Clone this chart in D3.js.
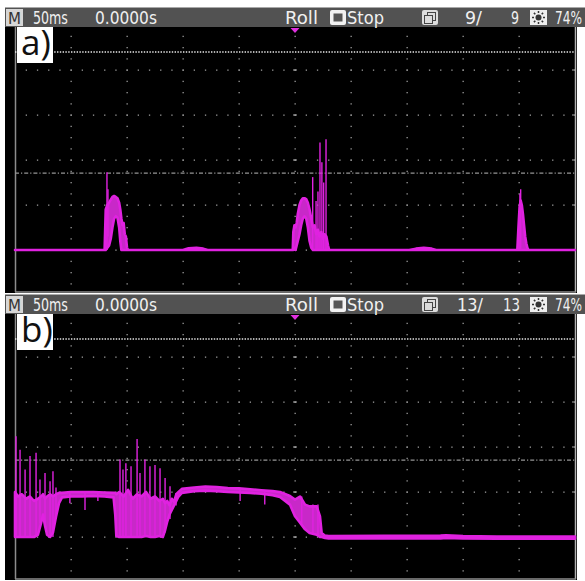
<!DOCTYPE html>
<html><head><meta charset="utf-8">
<script src="https://cdn.jsdelivr.net/npm/d3@7"></script>
<style>html,body{margin:0;padding:0;background:#fff;} svg{display:block;}</style>
</head><body>
<svg id="c" width="585" height="581"></svg>
<script>
// ---------- data ----------
const timeTicks = [0, 50, 100, 150, 200, 250, 300, 350, 400, 450, 500];   // ms (50 ms/div)
const levelTicks = [0, 1, 2, 3, 4];                                        // divisions
const panelLabels = ["a)", "b)"];
const frameCounts = [["9/", "9"], ["13/", "13"]];
const timebaseText = "50ms";
const delayText = "0.0000s";
const modeText = "Roll";
const stateText = "Stop";
const levelText = "74%";
const cursorLevel = 4.4;     // white dotted cursor (div)
const triggerLevel = 1.71;   // grey dash-dot level (div)
const triggerTime = 250;     // trigger marker position (ms)

// panel a envelope: [ms, low, high] in divisions
const envA = [
  [0,0,0],[80,0,0],[81,0,0.9],[82.5,0.05,1.0],[84,0.1,1.05],[85.5,0.25,1.12],[87,0.5,1.18],
  [88.5,0.7,1.2],[90,0.75,1.18],[91.5,0.72,1.15],[93,0.5,1.05],[94,0.2,0.9],[95,0,0.7],
  [96,0,0.55],[97,0,0.6],[98,0,0.35],[99,0,0.3],[100,0,0.05],[101,0,0],
  [150,0,0],[155,0,0.04],[162,0,0.05],[168,0,0.03],[172,0,0],
  [248,0,0],[248.5,0,0.4],[249.5,0.05,0.55],[250.5,0,0.5],[251.5,0.1,0.6],[252.5,0.2,0.8],
  [254,0.35,1.0],[255.5,0.55,1.1],[257,0.7,1.15],[258.5,0.75,1.15],[260,0.7,1.13],
  [261.5,0.5,1.05],[263,0.2,0.9],[264.5,0.05,0.7],[266,0,0.5],[267.5,0,0.55],[269,0,0.35],
  [270.5,0,0.45],[272,0,0.3],[273.5,0,0.4],[275,0,0.25],[276.5,0,0.35],[278,0,0.3],
  [279.5,0,0.1],[280.5,0,0],
  [352,0,0],[358,0,0.03],[365,0,0.05],[372,0,0.03],[376,0,0],
  [448.5,0,0],[449.5,0,0.5],[450.5,0,0.95],[451.5,0,1.1],[452.5,0,1.0],[453.5,0,0.8],
  [454.5,0,0.55],[455.5,0,0.3],[456.5,0,0.15],[457.5,0,0.05],[458.5,0,0],
  [500,0,0]
];
// panel a spikes: [ms, low, high]
const spikesA = [
  [82.1,0,1.73],[83,0.3,1.35],[265.8,0,1.62],[268.8,0,1.09],[270.5,0,1.3],[272.3,0,2.39],
  [274,0,1.95],[275.6,0,1.5],[277.7,0,2.46],[451.5,0,1.35],[450.8,0,1.25]
];

// panel b envelope
const envB = [
  [0,0,1.0],[2.7,0,0.9],[6.25,0,0.95],[9.8,0,0.85],[13.4,0,0.9],[17,0,0.8],[20.5,0.05,0.85],
  [23.2,0.3,0.9],[25,0.5,0.95],[26.8,0.25,0.85],[28.6,0.05,0.9],[31.3,0,0.95],[33.9,0.1,0.9],
  [36.6,0.45,0.95],[39.3,0.75,0.98],[42,0.88,0.98],[50,0.9,1.0],[60,0.9,1.0],[70,0.91,1.0],
  [80,0.9,0.99],[88,0.88,0.98],[89.5,0.5,0.98],[90.5,0.02,0.95],[93,0,1.0],[97,0,0.9],
  [101,0,1.05],[105,0,0.85],[109,0,0.95],[113,0,0.9],[117,0.02,1.0],[121,0,0.85],[125,0,0.9],
  [129,0.02,0.8],[132,0,0.85],[134,0.15,0.75],[136,0.35,0.8],[138,0.5,0.7],[140,0.6,0.85],
  [142,0.7,0.78],[144,0.8,0.95],[146,0.9,1.0],[149,0.98,1.07],[160,1.02,1.1],[170,1.03,1.12],
  [180,1.02,1.11],[190,1.0,1.09],[200,0.99,1.08],[210,0.98,1.06],[220,0.96,1.04],
  [230,0.93,1.02],[236.6,0.89,1.0],[245.5,0.72,0.91],[250,0.46,0.83],[254.5,0.32,0.9],
  [259,0.17,0.72],[263,0.09,0.68],[269.4,0.05,0.68],[272.3,0,0.46],[273.8,0,0.09],
  [276.8,-0.02,0.03],[280,-0.03,0.02],[380,-0.03,0.03],[385,-0.02,0.04],[400,-0.03,0.02],
  [430,-0.04,0.01],[500,-0.04,0.01]
];
const spikesB = [
  [0.9,0,2.24],[4.5,0,1.94],[9,0,1.5],[13.4,0,1.8],[18.8,0,1.87],[22.3,0.3,1.28],[26.8,0.3,1.42],
  [31.3,0,1.24],[33.9,0,1.46],[36.6,0.4,1.1],
  [49,0.75,1.0],[62.5,0.6,1.0],[74,0.8,1.0],
  [93.75,0,1.72],[96.4,0,1.5],[99,0,1.64],[103.6,0,1.57],[109,0,2.18],[111.6,0,1.42],
  [116,0,1.72],[120.5,0,1.57],[125,0,1.6],[129.5,0,1.53],[134,0.1,1.31],[138.4,0.4,1.13],
  [143.8,0.7,0.98],
  [201,0.8,1.05],[223,0.72,1.0],[256,0.3,0.9],[266,0.08,0.72],[270.5,0.05,0.72]
];
const panels = [
  {oy: 0, env: envA, spikes: spikesA},
  {oy: 287, env: envB, spikes: spikesB}
];

// ---------- drawing ----------
const svg = d3.select("#c");
const x = d3.scaleLinear().domain([0, 500]).range([15, 575]);
const trace = "#e022e0";
const hdrFont = "'DejaVu Sans Condensed','DejaVu Sans',sans-serif";

panels.forEach((p, i) => {
  const oy = p.oy;
  const y = d3.scaleLinear().domain([0, 1]).range([250 + oy, 205 + oy]);
  const g = svg.append("g");

  // screen
  g.append("rect").attr("x", 5).attr("y", 27 + oy).attr("width", 572).attr("height", 266).attr("fill", "#000");
  // header bar
  g.append("rect").attr("x", 5).attr("y", 7 + oy).attr("width", 580).attr("height", 20).attr("fill", "#525252");
  g.append("line").attr("x1", 5).attr("x2", 585).attr("y1", 7.5 + oy).attr("y2", 7.5 + oy).attr("stroke", "#a8a8a8");

  // grid dots on vertical division lines
  const yTop = 27 + oy, yBot = 292 + oy;
  timeTicks.slice(1, -1).forEach(t => {
    for (let yy = y(5) + 11.25; yy < yBot; yy += 11.25) {
      g.append("rect").attr("x", x(t) - 0.5).attr("y", yy - 0.5).attr("width", 1.3).attr("height", 1.3).attr("fill", "#9a9a9a");
    }
  });
  // grid dots on horizontal rows
  levelTicks.forEach(v => {
    for (let xx = x(0) + 11.2; xx < 575; xx += 11.2) {
      g.append("rect").attr("x", xx - 0.5).attr("y", y(v) - 0.5).attr("width", 1.3).attr("height", 1.3).attr("fill", "#9a9a9a");
    }
    g.append("line").attr("x1", x(250) - 2).attr("x2", x(250) + 2).attr("y1", y(v)).attr("y2", y(v)).attr("stroke", "#aaa");
    g.append("line").attr("x1", 572).attr("x2", 575).attr("y1", y(v)).attr("y2", y(v)).attr("stroke", "#aaa");
  });

  // frame
  g.append("line").attr("x1", 15.5).attr("x2", 15.5).attr("y1", yTop).attr("y2", yBot).attr("stroke", "#8c8c8c").attr("stroke-width", 1.5);
  g.append("line").attr("x1", 575.5).attr("x2", 575.5).attr("y1", yTop).attr("y2", yBot).attr("stroke", "#b0b0b0").attr("stroke-width", 1.5);
  g.append("line").attr("x1", 15).attr("x2", 576).attr("y1", yBot).attr("y2", yBot).attr("stroke", "#8c8c8c").attr("stroke-width", 1.5);

  // cursor & trigger level lines
  g.append("line").attr("x1", x(0)).attr("x2", 575).attr("y1", y(cursorLevel)).attr("y2", y(cursorLevel))
    .attr("stroke", "#e8e8e8").attr("stroke-width", 1.4).attr("stroke-dasharray", "1.4,1.4");
  g.append("line").attr("x1", x(0)).attr("x2", 575).attr("y1", y(triggerLevel)).attr("y2", y(triggerLevel))
    .attr("stroke", "#959595").attr("stroke-width", 1.2).attr("stroke-dasharray", "4,2,1.2,2");

  // trace
  const area = d3.area().x(d => x(d[0])).y0(d => y(d[1])).y1(d => y(d[2]));
  g.append("path").datum(p.env).attr("d", area).attr("fill", "#c828c8")
    .attr("stroke", trace).attr("stroke-width", 2.6).attr("stroke-linejoin", "round");
  g.selectAll(null).data(p.spikes).enter().append("line")
    .attr("x1", d => x(d[0])).attr("x2", d => x(d[0]))
    .attr("y1", d => y(d[1])).attr("y2", d => y(d[2]))
    .attr("stroke", trace).attr("stroke-width", 1.4);

  // trigger marker
  const tx = x(triggerTime);
  g.append("path").attr("d", `M${tx - 4.5},${28 + oy}L${tx + 4.5},${28 + oy}L${tx},${33 + oy}Z`).attr("fill", "#e030e0");

  // panel label
  g.append("rect").attr("x", 17).attr("y", 27 + oy).attr("width", 36).attr("height", 36).attr("fill", "#fff");
  g.append("text").attr("x", 21).attr("y", 55 + oy).text(panelLabels[i])
    .attr("font-family", "'Open Sans',sans-serif").attr("font-size", 35).attr("fill", "#111");

  // header contents
  g.append("rect").attr("x", 6).attr("y", 9 + oy).attr("width", 17).attr("height", 17).attr("fill", "#d6d6d6");
  // condensed header text: natural text horizontally scaled to target width
  const ht = (s, x0, w, size, fill) => {
    const t = g.append("text").attr("x", 0).attr("y", 0).text(s)
      .attr("font-family", hdrFont).attr("font-size", size || 18).attr("fill", fill || "#f0f0f0");
    const nat = t.node().getComputedTextLength();
    t.attr("transform", `translate(${x0},${23.5 + oy}) scale(${w / nat},1)`);
    return t;
  };
  ht("M", 8, 13, 16, "#333");
  ht(timebaseText, 33, 35);
  ht(delayText, 95, 62);
  ht(modeText, 285, 33);
  // stop icon
  g.append("rect").attr("x", 330).attr("y", 10 + oy).attr("width", 16).attr("height", 15).attr("rx", 2).attr("fill", "#f2f2f2");
  g.append("rect").attr("x", 333.5).attr("y", 13.5 + oy).attr("width", 9).attr("height", 8).attr("fill", "#555");
  ht(stateText, 347, 37);
  // stacked-pages icon
  g.append("rect").attr("x", 422).attr("y", 10 + oy).attr("width", 16).attr("height", 15).attr("rx", 2).attr("fill", "#dcdcdc");
  g.append("rect").attr("x", 427.5).attr("y", 12.5 + oy).attr("width", 8).attr("height", 8).attr("fill", "#dcdcdc").attr("stroke", "#444");
  g.append("rect").attr("x", 424.5).attr("y", 15.5 + oy).attr("width", 8).attr("height", 8).attr("fill", "#dcdcdc").attr("stroke", "#444");
  // frame counters
  const fc = frameCounts[i];
  if (i === 0) { ht(fc[0], 465, 17); ht(fc[1], 511, 8); }
  else { ht(fc[0], 457, 26); ht(fc[1], 503, 17); }
  // brightness icon
  g.append("rect").attr("x", 530).attr("y", 10 + oy).attr("width", 17).attr("height", 15).attr("fill", "#eeeeee");
  g.append("circle").attr("cx", 538.5).attr("cy", 17.5 + oy).attr("r", 3).attr("fill", "#333");
  [0, 45, 90, 135, 180, 225, 270, 315].forEach(a => {
    const r = a * Math.PI / 180;
    g.append("line").attr("x1", 538.5 + 4.5 * Math.cos(r)).attr("y1", 17.5 + oy + 4.5 * Math.sin(r))
      .attr("x2", 538.5 + 6.5 * Math.cos(r)).attr("y2", 17.5 + oy + 6.5 * Math.sin(r))
      .attr("stroke", "#333").attr("stroke-width", 1.5);
  });
  ht(levelText, 555, 27);
});
</script>
</body></html>
